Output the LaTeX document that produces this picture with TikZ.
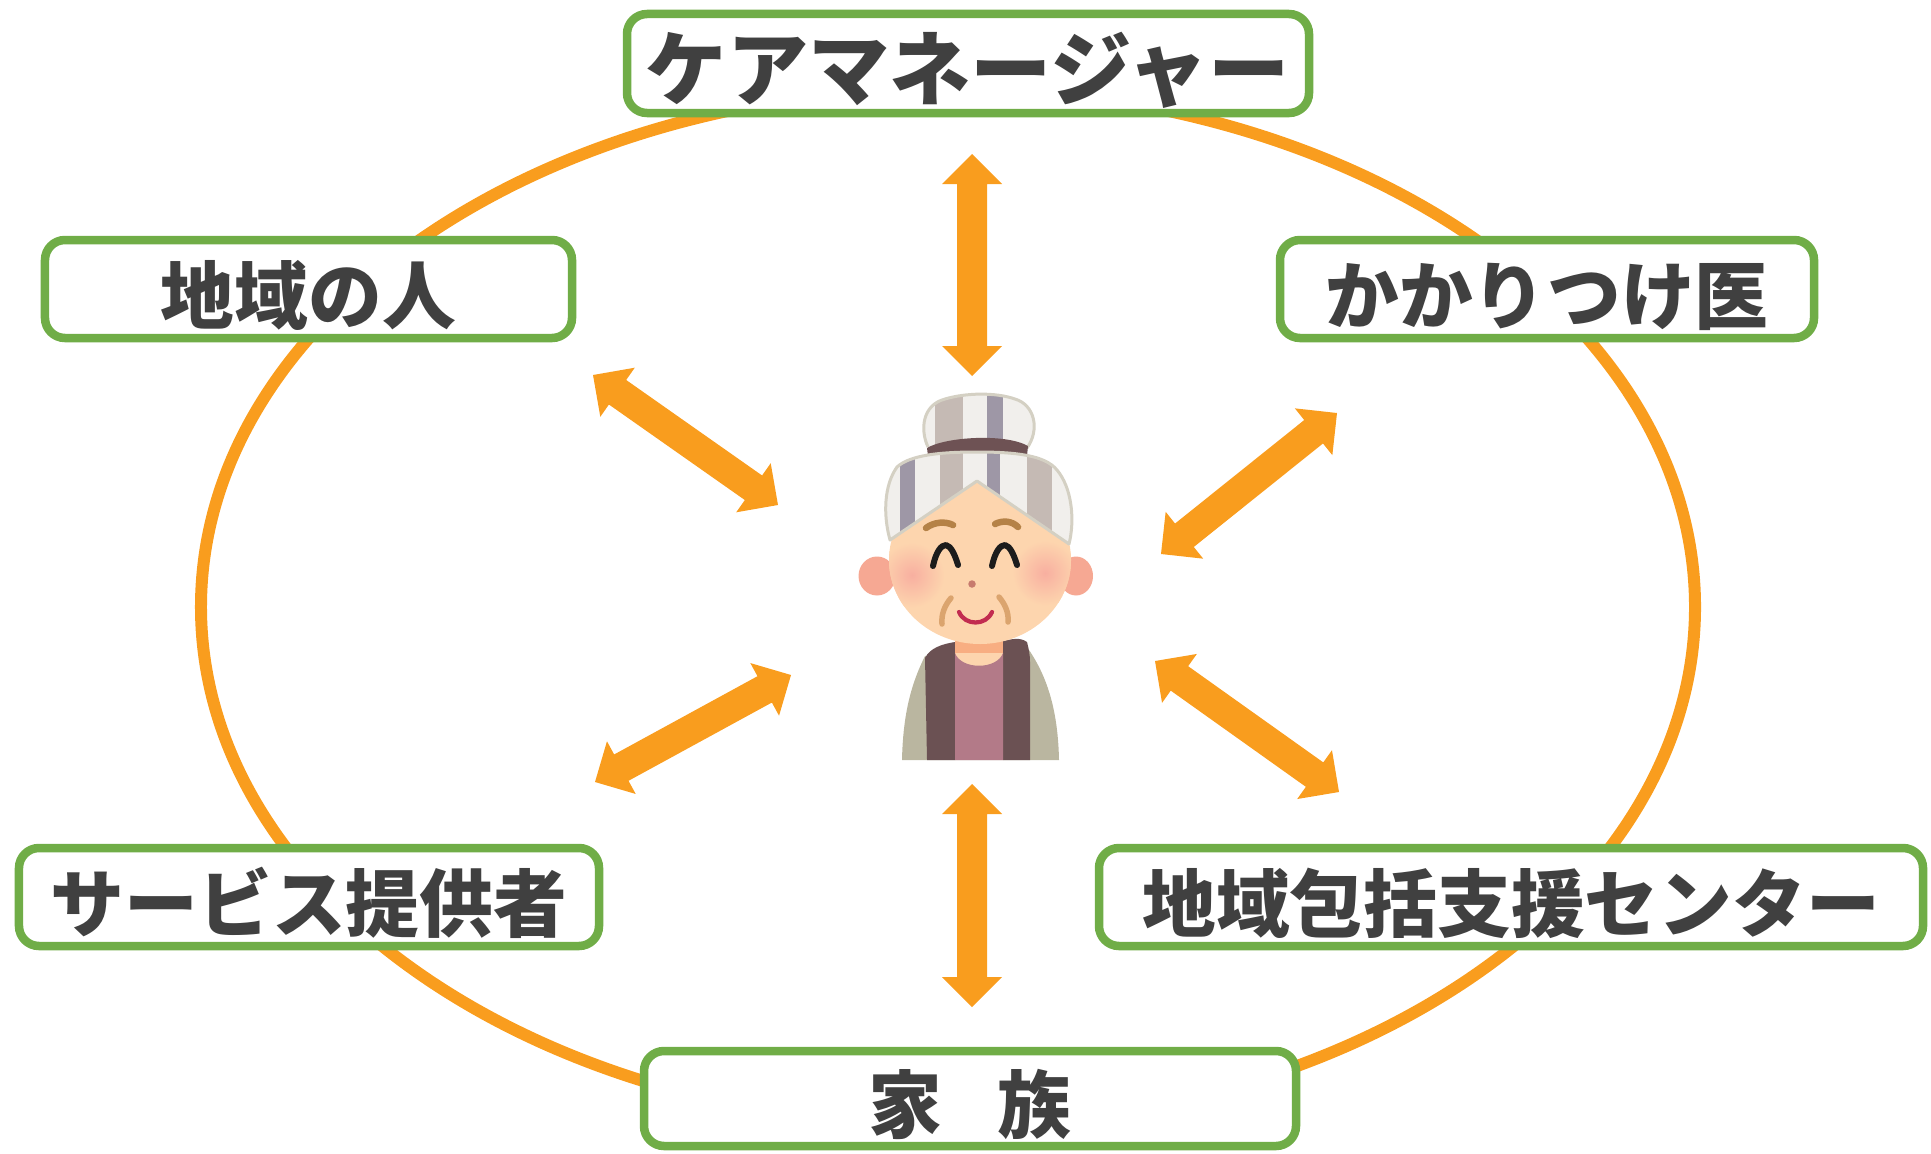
\documentclass[tikz,border=0pt]{standalone}
\usepackage{fontspec}
\newfontfamily\jp{Noto Sans CJK JP}
\usetikzlibrary{calc}

\definecolor{ringorange}{HTML}{F99D1E}
\definecolor{boxgreen}{HTML}{70AD47}
\definecolor{textgray}{HTML}{404040}
\definecolor{skin}{HTML}{FDD5AE}
\definecolor{blush}{HTML}{F8AFA0}
\definecolor{ear}{HTML}{F6A893}
\definecolor{scarfwhite}{HTML}{F1EFEC}
\definecolor{scarfpurple}{HTML}{9E97A6}
\definecolor{scarftaupe}{HTML}{C5BAB4}
\definecolor{scarfedge}{HTML}{D4D0C3}
\definecolor{band}{HTML}{6E5254}
\definecolor{brow}{HTML}{B58247}
\definecolor{eyeblack}{HTML}{1C1C1C}
\definecolor{lip}{HTML}{C22C50}
\definecolor{nose}{HTML}{C77B6E}
\definecolor{wrinkle}{HTML}{DBA46E}
\definecolor{neckband}{HTML}{F8AE82}
\definecolor{shirt}{HTML}{B37A88}
\definecolor{vest}{HTML}{6B5153}
\definecolor{cardigan}{HTML}{BAB6A0}

\tikzset{
  labelbox/.style={draw=boxgreen, line width=3.4pt, rounded corners=8pt, fill=white,
    inner sep=0pt, minimum height=39.2pt, text=textgray,
    text height=28pt, text depth=0.8pt,
    font=\jp\bfseries\fontsize{29.5pt}{32pt}\selectfont},
  ring/.style={draw=ringorange, line width=4.8pt},
  arrowfill/.style={fill=ringorange},
  featureline/.style={line cap=round, line join=round},
}

% double-headed block arrow between two named coordinates
\newcommand\biarrow[2]{%
  \coordinate (#1#2p) at ($(#1)!12pt!(#2)$);
  \coordinate (#1#2q) at ($(#2)!12pt!(#1)$);
  \fill[arrowfill] (#1)
    -- ($(#1#2p)!12pt!90:(#2)$) -- ($(#1#2p)!6pt!90:(#2)$)
    -- ($(#1#2q)!6pt!-90:(#1)$) -- ($(#1#2q)!12pt!-90:(#1)$)
    -- (#2)
    -- ($(#1#2q)!12pt!90:(#1)$) -- ($(#1#2q)!6pt!90:(#1)$)
    -- ($(#1#2p)!6pt!-90:(#2)$) -- ($(#1#2p)!12pt!-90:(#2)$) -- cycle;
}

\begin{document}
\begin{tikzpicture}[x=0.4pt,y=-0.4pt]
\useasboundingbox (0,0) rectangle (1931,1153);

% surrounding ring
\draw[ring] (948,607) ellipse [x radius=298.8pt, y radius=207.6pt];

% labelled boxes
\node[labelbox, minimum width=272.8pt, minimum height=39.6pt,
      text height=30pt, text depth=0.9pt,
      font=\jp\bfseries\fontsize{32.5pt}{34pt}\selectfont] (cm) at (968,63.5) {ケアマネージャー};
\node[labelbox, minimum width=210.8pt] (neigh) at (308.5,289) {地域の人};
\node[labelbox, minimum width=213.6pt] (doc) at (1547,289) {かかりつけ医};
\node[labelbox, minimum width=232pt] (svc) at (309,897) {サービス提供者};
\node[labelbox, minimum width=329.6pt] (center) at (1511,897) {地域包括支援センター};
\node[labelbox, minimum width=260.8pt, minimum height=38pt] (fam) at (970,1098.5) {家\hspace{0.75em}族};

% arrow end points
\coordinate (tA) at (972,154);  \coordinate (tB) at (972,376);
\coordinate (bA) at (972,784);  \coordinate (bB) at (972,1007);
\coordinate (ulA) at (593,375); \coordinate (ulB) at (778,505);
\coordinate (llA) at (595,782); \coordinate (llB) at (791,675);
\coordinate (urA) at (1161,554);\coordinate (urB) at (1337,413);
\coordinate (lrA) at (1155,661);\coordinate (lrB) at (1339,792);

\biarrow{tA}{tB}
\biarrow{bA}{bB}
\biarrow{ulA}{ulB}
\biarrow{llA}{llB}
\biarrow{urA}{urB}
\biarrow{lrA}{lrB}

% ---- elderly woman ----
% cardigan
\fill[cardigan] (925,656) .. controls (912,682) and (903,712) .. (902,760)
  -- (1059,760) .. controls (1058,712) and (1048,678) .. (1029,650) -- cycle;
% vest
\fill[vest] (925,658) .. controls (930,648) and (942,644) .. (955,642)
  -- (955,760) -- (927,760) -- cycle;
\fill[vest] (1003,641) .. controls (1012,639) and (1020,637) .. (1027,642)
  .. controls (1029,650) and (1030,655) .. (1030,662) -- (1030,760) -- (1003,760) -- cycle;
% neck and shirt
\fill[skin] (955,636) rectangle (1003,680);
\fill[neckband] (955,636) rectangle (1003,653);
\fill[shirt] (955,653) .. controls (961,670) and (997,670) .. (1003,653)
  -- (1003,760) -- (955,760) -- cycle;

% ears
\fill[ear] (877,576) ellipse [x radius=7.4pt, y radius=7.8pt];
\fill[ear] (1076,576) ellipse [x radius=6.8pt, y radius=7.8pt];

% face
\fill[skin] (980,560) ellipse [x radius=36.4pt, y radius=33.6pt];
\begin{scope}
  \clip (980,560) ellipse [x radius=36.4pt, y radius=33.6pt];
  \shade[inner color=blush, outer color=skin] (912,575) circle [radius=13pt];
  \shade[inner color=blush, outer color=skin] (1045,573) circle [radius=13pt];
\end{scope}

% eyebrows
\draw[featureline, brow, line width=2.6pt] (926,528) .. controls (934,522) and (945,521) .. (953,525);
\draw[featureline, brow, line width=2.6pt] (995,524) .. controls (1003,520) and (1012,521) .. (1018,527);
% eyes
\draw[featureline, eyeblack, line width=2.4pt] (933,566) .. controls (936,552) and (941,545) .. (946,545)
  .. controls (951,546) and (955,555) .. (958,565);
\draw[featureline, eyeblack, line width=2.4pt] (992,566) .. controls (995,552) and (1000,545) .. (1005,545)
  .. controls (1010,546) and (1014,555) .. (1017,565);
% nose
\fill[nose] (972,584) circle [radius=1.5pt];
% wrinkles
\draw[featureline, wrinkle, line width=2.2pt] (951,598) .. controls (945,605) and (941,614) .. (942,624);
\draw[featureline, wrinkle, line width=2.2pt] (999,597) .. controls (1005,604) and (1009,613) .. (1008,622);
% mouth
\draw[featureline, lip, line width=1.7pt] (959,612) .. controls (965,626) and (986,626) .. (992,612);

% bun
\begin{scope}
  \clip (928,447) .. controls (920,430) and (922,405) .. (945,399)
    .. controls (965,393) and (995,392) .. (1015,399)
    .. controls (1035,405) and (1040,430) .. (1027,448) -- cycle;
  \fill[scarfwhite] (900,380) rectangle (1060,460);
  \fill[scarftaupe] (935,380) rectangle (963,460);
  \fill[scarfpurple] (987,380) rectangle (1003,460);
\end{scope}
\draw[scarfedge, line width=1.2pt] (928,447) .. controls (920,430) and (922,405) .. (945,399)
    .. controls (965,393) and (995,392) .. (1015,399)
    .. controls (1035,405) and (1040,430) .. (1027,448);
\fill[band] (927,448) .. controls (945,437) and (1005,433) .. (1028,446)
  -- (1027,456) -- (928,456) -- cycle;

% headscarf
\begin{scope}
  \clip (890,540) .. controls (883,515) and (884,485) .. (897,467)
    .. controls (910,455) and (940,452) .. (977,452)
    .. controls (1015,452) and (1045,455) .. (1057,470)
    .. controls (1072,488) and (1075,520) .. (1069,544)
    -- (977,481) -- cycle;
  \fill[scarfwhite] (870,440) rectangle (1090,560);
  \fill[scarfpurple] (900,440) rectangle (915,560);
  \fill[scarftaupe] (940,440) rectangle (963,560);
  \fill[scarfpurple] (987,440) rectangle (1000,560);
  \fill[scarftaupe] (1027,440) rectangle (1052,560);
\end{scope}
\draw[scarfedge, line width=1.2pt, line join=round] (890,540) .. controls (883,515) and (884,485) .. (897,467)
    .. controls (910,455) and (940,452) .. (977,452)
    .. controls (1015,452) and (1045,455) .. (1057,470)
    .. controls (1072,488) and (1075,520) .. (1069,544)
    -- (977,481) -- cycle;

\end{tikzpicture}
\end{document}
